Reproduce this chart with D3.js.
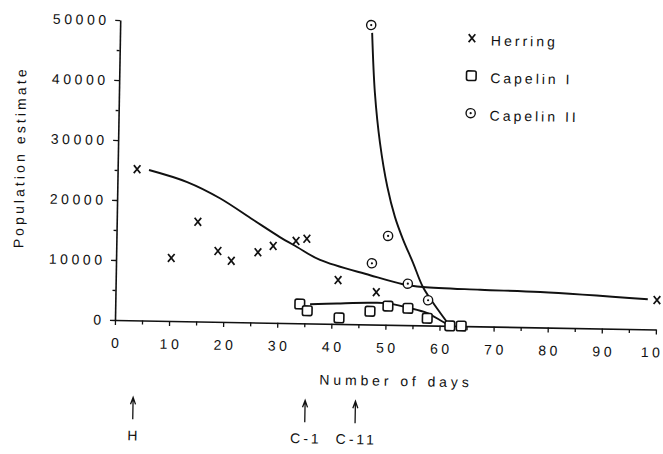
<!DOCTYPE html>
<html><head><meta charset="utf-8">
<script src="https://cdn.jsdelivr.net/npm/d3@7"></script>
<style>
html,body{margin:0;padding:0;background:#fff;}
svg{display:block;}
</style></head><body>
<svg id="chart" width="663" height="454"></svg>
<script>
// ---- data ----
const xTicks = [0,10,20,30,40,50,60,70,80,90,100];
const xMinorTicks = [5,15,25,35,45,55,65,75,85,95];
const yTicks = [0,10000,20000,30000,40000,50000];
const yMinorTicks = [5000,15000,25000,35000,45000];

const herringDays = [3.6,10.2,15.0,18.8,21.3,26.2,29.0,33.2,35.2,41.1,48.2,100.1];
const herringPop  = [25200,10500,16600,11800,10200,11700,12800,13700,14100,7300,5400,4900];
const capelin1Days = [34.1,35.5,41.4,47.1,50.4,54.1,57.7,61.9,64.0];
const capelin1Pop  = [3200,2100,1000,2200,3100,2800,1200,0,0];
const capelin2Days = [46.4,47.3,50.2,54.0,57.8];
const capelin2Pop  = [49900,10200,14800,6900,4200];

const herringFitDays = [5.8,12.9,19.0,25.2,30.2,33.4,37.7,47.0,53.1,56.8,67.4,78.5,98.4];
const herringFitPop  = [25100,23200,20600,17100,14300,12700,10600,8200,6800,6400,6100,5900,5000];
const capelin1FitDays = [36.0,41.0,46.7,50.2,54.1,57.6,60.1,61.9];
const capelin1FitPop  = [3200,3400,3600,3600,2900,2100,900,0];
const capelin2FitDays = [46.6,47.3,48.4,49.9,51.4,53.0,54.9,56.8,59.7,61.9];
const capelin2FitPop  = [48600,38600,30300,23000,18000,14200,10400,6400,2600,0];

const legendLabels = ["Herring","Capelin I","Capelin II"];
const eventLabels = ["H","C-1","C-11"];
const eventDays = [3.6,35.4,44.7];

const xTitle = "Number of days";
const yTitle = "Population estimate";

// ---- drawing ----
const FONT = '"Liberation Sans", Arial, Helvetica, sans-serif';
const INK = "#111";
const svg = d3.select("#chart");
const x = d3.scaleLinear().domain([0,100]).range([115,656]);
const y = d3.scaleLinear().domain([0,50000]).range([320,20]);

// whole figure slightly rotated, like the scanned original
const g = svg.append("g").attr("transform","rotate(1,115,320)");

function styleAxis(sel){
  sel.select(".domain").attr("stroke",INK).attr("stroke-width",1.6);
  sel.selectAll(".tick line").attr("stroke",INK).attr("stroke-width",1.3);
  sel.selectAll("text").attr("font-family",FONT).attr("font-size",14)
     .attr("fill",INK).attr("letter-spacing",3.6);
}

// x axis
const xAxisG = g.append("g").attr("transform",`translate(0,${y(0)})`)
  .call(d3.axisBottom(x).tickValues(xTicks).tickSize(5).tickSizeOuter(0).tickPadding(13).tickFormat(d3.format("d")));
styleAxis(xAxisG);
xAxisG.selectAll("text").attr("dx",1.8);
const xMinorG = g.append("g").attr("transform",`translate(0,${y(0)})`)
  .call(d3.axisBottom(x).tickValues(xMinorTicks).tickSize(4).tickSizeOuter(0).tickFormat(""));
styleAxis(xMinorG);
xMinorG.select(".domain").remove();

// y axis
const yAxisG = g.append("g").attr("transform",`translate(${x(0)},0)`)
  .call(d3.axisLeft(y).tickValues(yTicks).tickSize(5).tickSizeOuter(0).tickPadding(9).tickFormat(d3.format("d")));
styleAxis(yAxisG);
yAxisG.selectAll("text").attr("dx",3.6);
const yMinorG = g.append("g").attr("transform",`translate(${x(0)},0)`)
  .call(d3.axisLeft(y).tickValues(yMinorTicks).tickSize(3).tickSizeOuter(0).tickFormat(""));
styleAxis(yMinorG);
yMinorG.select(".domain").remove();

// axis titles
g.append("text").attr("x",397).attr("y",381).attr("text-anchor","middle")
  .attr("font-family",FONT).attr("font-size",14).attr("fill",INK).attr("letter-spacing",3.9)
  .text(xTitle);
g.append("text").attr("transform","translate(22,159) rotate(-90)").attr("text-anchor","middle")
  .attr("font-family",FONT).attr("font-size",14).attr("fill",INK).attr("letter-spacing",3.1)
  .text(yTitle);

// fitted curves
const line = d3.line().x(d=>x(d[0])).y(d=>y(d[1])).curve(d3.curveCatmullRom.alpha(0.5));
const fits = [
  d3.zip(herringFitDays, herringFitPop),
  d3.zip(capelin1FitDays, capelin1FitPop),
  d3.zip(capelin2FitDays, capelin2FitPop)
];
g.selectAll("path.fit").data(fits).join("path").attr("class","fit")
  .attr("d",line).attr("fill","none").attr("stroke",INK).attr("stroke-width",1.9);

// markers
function drawX(sel){ sel.append("path").attr("d","M-3.3,-4L3.3,4M3.3,-4L-3.3,4")
  .attr("stroke",INK).attr("stroke-width",1.7).attr("fill","none"); }
function drawSq(sel){ sel.append("rect").attr("x",-4.8).attr("y",-4.8).attr("width",9.6).attr("height",9.6)
  .attr("rx",1.8).attr("fill","#fff").attr("stroke",INK).attr("stroke-width",1.6); }
function drawCirc(sel){ sel.append("circle").attr("r",4.6).attr("fill","#fff").attr("stroke",INK).attr("stroke-width",1.4);
  sel.append("circle").attr("r",1.1).attr("fill",INK); }

g.selectAll("g.herring").data(d3.zip(herringDays, herringPop)).join("g").attr("class","herring")
  .attr("transform",d=>`translate(${x(d[0])},${y(d[1])})`).call(drawX);
g.selectAll("g.cap1").data(d3.zip(capelin1Days, capelin1Pop)).join("g").attr("class","cap1")
  .attr("transform",d=>`translate(${x(d[0])},${y(d[1])})`).call(drawSq);
g.selectAll("g.cap2").data(d3.zip(capelin2Days, capelin2Pop)).join("g").attr("class","cap2")
  .attr("transform",d=>`translate(${x(d[0])},${y(d[1])})`).call(drawCirc);

// legend
const drawers = [drawX, drawSq, drawCirc];
const leg = g.append("g");
legendLabels.forEach((lab,i)=>{
  const yy = 32 + i*37.5;
  leg.append("g").attr("transform",`translate(467,${yy})`).call(drawers[i]);
  leg.append("text").attr("x",486).attr("y",yy+7).attr("font-family",FONT).attr("font-size",14)
    .attr("fill",INK).attr("letter-spacing",3).text(lab);
});

// event arrows
eventLabels.forEach((lab,i)=>{
  const xx = x(eventDays[i]);
  g.append("path").attr("d",`M${xx},398V419M${xx-2.5},404L${xx},397L${xx+2.5},404`)
    .attr("stroke",INK).attr("stroke-width",1.3).attr("fill","none");
  g.append("text").attr("x",xx).attr("dx",1.5).attr("y",440).attr("text-anchor","middle")
    .attr("font-family",FONT).attr("font-size",14).attr("fill",INK).attr("letter-spacing",3)
    .text(lab);
});
</script>
</body></html>
